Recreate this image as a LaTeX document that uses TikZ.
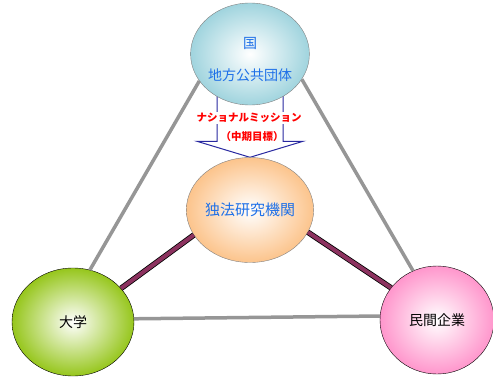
\documentclass[tikz,border=0pt]{standalone}
\usepackage{fontspec}
\setmainfont{Noto Sans CJK JP}
\usepackage{xcolor}
\usepackage{tikz}
\usetikzlibrary{shapes}
\usetikzlibrary{shapes.geometric}
\usetikzlibrary{calc}
\usetikzlibrary{backgrounds}
\definecolor{bleuciel}{RGB}{160,212,222}
\definecolor{orangeclair}{RGB}{252,196,140}
\definecolor{vertpomme}{RGB}{150,198,28}
\definecolor{rose}{RGB}{255,150,204}
\definecolor{bleutexte}{RGB}{30,112,232}
\definecolor{bleufonce}{RGB}{40,40,160}
\definecolor{grisclair}{RGB}{150,150,150}
\definecolor{prune}{RGB}{140,50,95}
\tikzstyle{organe}=[
        ellipse,
        draw=gray,
        inner sep=0pt,
        align=center,
        inner color=white
]
\tikzstyle{lien}=[line width=3.5pt,draw=grisclair]
\tikzstyle{lienfort}=[line width=0.8pt,draw=black,double=prune,double distance=4pt]
\tikzstyle{fleche}=[draw=bleufonce,line width=1pt,fill=white]
\tikzstyle{mission}=[text=red,font=\fontsize{10.5}{12}\selectfont\bfseries,inner sep=1pt]

\begin{document}
\begin{tikzpicture}[x=1pt,y=1pt]
\useasboundingbox (0,0) rectangle (493,376);
\node[organe,outer color=bleuciel,minimum width=114,minimum height=102,text=bleutexte,font=\fontsize{14}{17}\selectfont] (gov) at (250,322) {\rule{0pt}{23pt}国\\[15pt]地方公共団体};
\node[organe,outer color=orangeclair,minimum width=120,minimum height=105,text=bleutexte,font=\fontsize{15}{18}\selectfont] (inst) at (250,166) {独法研究機関};
\node[organe,draw=black,outer color=vertpomme,minimum width=122,minimum height=108,font=\fontsize{14}{17}\selectfont] (univ) at (73,54) {大学};
\node[organe,draw=black,outer color=rose,minimum width=114,minimum height=108,font=\fontsize{14}{17}\selectfont] (corp) at (437,56) {民間企業};
%Drawing Edges
\begin{scope}[on background layer]
\draw[fleche] ($(gov.south)+(-33,10)$) -- ($(inst.north)+(-33,16)$) -- ++(-20,0) -- (inst.north) -- ++(53,16) -- ++(-20,0) -- ($(gov.south)+(33,10)$) -- cycle;
\end{scope}
\node[mission,fill=white] (nat) at (249,258) {ナショナルミッション};
\node[mission] (goal) at (252,239) {（中期目標）};
\draw[lien] (gov.208) -- (univ.72);
\draw[lien] (gov.334) -- (corp.116);
\draw[lien] (univ.3) -- (corp.176);
\draw[lienfort] (inst.204) -- (univ.35);
\draw[lienfort] (inst.339) -- (corp.145);
\end{tikzpicture}
\end{document}
